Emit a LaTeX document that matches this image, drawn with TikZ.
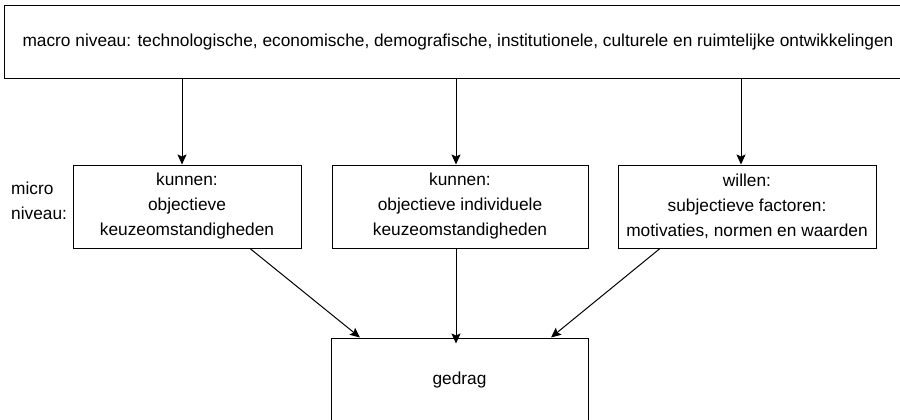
\documentclass[tikz,border=0pt]{standalone}
\usepackage{fontspec}
\setmainfont{Liberation Sans}
\usetikzlibrary{arrows.meta}
\begin{document}
\begin{tikzpicture}[x=1pt,y=-1pt,
  txt/.style={font=\fontsize{17.3}{25}\selectfont},
  box/.style={draw=black, line width=1pt, align=center, inner sep=0pt, txt},
  link/.style={draw=black, line width=1pt, -{Stealth[length=10pt,width=9pt,inset=2pt]}}]
  \useasboundingbox (0,0) rectangle (900,420);
  \fill[white] (0,0) rectangle (900,420);

  % macro level
  \node[box, minimum width=908pt, minimum height=73pt] (top) at (458,42.5)
    {macro niveau: technologische, economische, demografische, institutionele, culturele en ruimtelijke ontwikkelingen};

  % micro level
  \node[align=left, anchor=west, inner sep=0pt, txt] (lbl) at (11,201) {micro\\niveau:};
  \node[box, minimum width=228pt, minimum height=83pt] (b1) at (187,206.5)
    {kunnen:\\objectieve\\keuzeomstandigheden};
  \node[box, minimum width=256pt, minimum height=83pt] (b2) at (460,206.5)
    {kunnen:\\objectieve individuele\\keuzeomstandigheden};
  \node[box, minimum width=258pt, minimum height=83pt] (b3) at (747,206.5)
    {willen:\\subjectieve factoren:\\motivaties, normen en waarden};

  % behaviour
  \node[box, minimum width=257pt, minimum height=84pt] (gd) at (459.5,380) {gedrag};

  % influences
  \draw[link] ([xshift=-5pt]b1.north |- top.south) -- ([xshift=-5pt]b1.north);
  \draw[link] ([xshift=-4pt]b2.north |- top.south) -- ([xshift=-4pt]b2.north);
  \draw[link] ([xshift=-6pt]b3.north |- top.south) -- ([xshift=-6pt]b3.north);

  \draw[link] ([xshift=63pt]b1.south) -- ([xshift=-99.5pt]gd.north);
  \draw[link] ([xshift=-4pt]b2.south) -- ([xshift=-3.5pt,yshift=-6pt]gd.north);
  \draw[link] ([xshift=-87pt]b3.south) -- ([xshift=91.5pt]gd.north);
\end{tikzpicture}
\end{document}
